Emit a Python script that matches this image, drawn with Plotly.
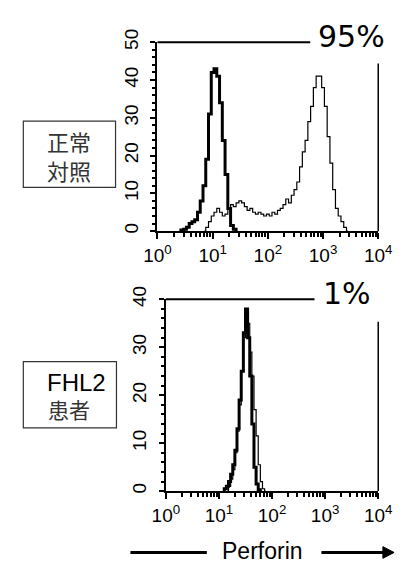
import plotly.graph_objects as go

# ---------------- data (log10 of Perforin fluorescence, cell counts) ----------------
# Normal control: isotype control (thick) and perforin (thin)
ctrl_iso_log = [0.40, 0.45, 0.50, 0.55, 0.60, 0.65, 0.70, 0.75, 0.80, 0.85, 0.90, 0.95,
                1.00, 1.05, 1.10, 1.15, 1.20, 1.25, 1.30, 1.35, 1.40, 1.45]
ctrl_iso_cnt = [0, 0.3, 0.5, 1, 2, 2.5, 3, 5, 8, 12, 19, 31,
                42, 43, 41, 34, 24, 15, 6, 1.5, 0.5, 0]

ctrl_prf_log = [0.85, 0.90, 0.95, 1.00, 1.05, 1.10, 1.15, 1.20, 1.25, 1.30, 1.35, 1.40,
                1.45, 1.50, 1.55, 1.60, 1.65, 1.70, 1.75, 1.80, 1.85, 1.90, 1.95, 2.00,
                2.05, 2.10, 2.15, 2.20, 2.25, 2.30, 2.35, 2.40, 2.45, 2.50, 2.55, 2.60,
                2.65, 2.70, 2.75, 2.80, 2.85, 2.90, 2.95, 3.00, 3.05, 3.10, 3.15, 3.20,
                3.25, 3.30, 3.35, 3.40, 3.45]
ctrl_prf_cnt = [0, 1, 2.5, 4, 5, 6, 5, 4, 4.5, 6, 7, 6.5,
                7.5, 8, 7.5, 6.5, 5.5, 6, 5, 4.5, 5, 4.5, 4, 4.5,
                4, 5, 4.5, 5.5, 6, 7, 8.5, 7.5, 9.5, 11, 13, 17,
                21, 24, 29, 33, 38, 41, 41, 38, 33, 25, 18, 11,
                6, 4, 2.5, 1, 0]

# FHL2 patient
pt_iso_log = [1.08, 1.12, 1.16, 1.20, 1.24, 1.28, 1.32, 1.36, 1.40, 1.44, 1.48, 1.52,
              1.56, 1.60, 1.64, 1.68, 1.72, 1.76, 1.80]
pt_iso_cnt = [0, 0.5, 1, 2, 3.5, 5.5, 8.5, 13, 19, 25, 33, 38,
              32, 24, 14, 5, 1.5, 0.3, 0]

pt_prf_log = [1.16, 1.20, 1.24, 1.28, 1.32, 1.36, 1.40, 1.44, 1.48, 1.52, 1.56, 1.60,
              1.64, 1.68, 1.72, 1.76, 1.80, 1.84, 1.88]
pt_prf_cnt = [0, 1, 2.5, 4.5, 8, 12.5, 18, 25, 32, 36, 35, 29,
              24, 17, 11.5, 5.5, 2, 0.5, 0]

x_tickvals = [1, 10, 100, 1000, 10000]
x_ticktext = ["10<sup>0</sup>", "10<sup>1</sup>", "10<sup>2</sup>", "10<sup>3</sup>", "10<sup>4</sup>"]
top_label = "95%"
bottom_label = "1%"
row1_text = "正常<br>対照"
row2_lines = ["FHL2", "患者"]
axis_title = "Perforin"

W, H = 409, 572
def px(x):
    return x / W
def py(y):
    return 1 - y / H

fig = go.Figure()
fig.add_trace(go.Scatter(x=[10 ** v for v in ctrl_prf_log], y=ctrl_prf_cnt, mode="lines",
                         line=dict(color="black", width=1.2, shape="hvh"), xaxis="x", yaxis="y"))
fig.add_trace(go.Scatter(x=[10 ** v for v in ctrl_iso_log], y=ctrl_iso_cnt, mode="lines",
                         line=dict(color="black", width=3, shape="hvh"), xaxis="x", yaxis="y"))
fig.add_trace(go.Scatter(x=[10 ** v for v in pt_prf_log], y=pt_prf_cnt, mode="lines",
                         line=dict(color="black", width=1.2, shape="hvh"), xaxis="x2", yaxis="y2"))
fig.add_trace(go.Scatter(x=[10 ** v for v in pt_iso_log], y=pt_iso_cnt, mode="lines",
                         line=dict(color="black", width=3, shape="hvh"), xaxis="x2", yaxis="y2"))

tickfont = dict(family="Liberation Sans Narrow, Liberation Sans, Arial", size=19, color="black")
xcommon = dict(type="log", range=[0, 4], tickvals=x_tickvals, ticktext=x_ticktext,
               showline=True, linecolor="black", linewidth=2, ticks="outside", ticklen=6,
               tickwidth=1.5, tickcolor="black", showgrid=False, zeroline=False,
               tickfont=tickfont, ticklabelstandoff=0,
               minor=dict(ticks="outside", ticklen=4, tickcolor="black", showgrid=False,
                          tickvals=[a * b for b in [1, 10, 100, 1000] for a in range(2, 10)]))
ycommon = dict(showline=True, linecolor="black", linewidth=2, ticks="outside", ticklen=5,
               tickwidth=1.5, tickcolor="black", showgrid=False, zeroline=False,
               tickangle=-90, tickfont=tickfont, dtick=10, ticklabelstandoff=5,
               minor=dict(ticks="outside", ticklen=3, dtick=2, tickcolor="black", showgrid=False))

fig.update_layout(
    width=W, height=H, margin=dict(l=0, r=0, t=0, b=0),
    paper_bgcolor="white", plot_bgcolor="white", showlegend=False,
    xaxis=dict(domain=[px(154), px(391)], anchor="y", **xcommon),
    yaxis=dict(domain=[py(224), py(30)], range=[0, 50], anchor="x", **ycommon),
    xaxis2=dict(domain=[px(163), px(391)], anchor="y2", **xcommon),
    yaxis2=dict(domain=[py(491), py(294)], range=[0, 40], anchor="x2", **ycommon),
)

shapes = []
# partial top borders and right borders
shapes.append(dict(type="line", xref="x domain", yref="y domain", x0=0, x1=0.692, y0=1, y1=1,
                   line=dict(color="black", width=2)))
shapes.append(dict(type="line", xref="x domain", yref="y domain", x0=1, x1=1, y0=0, y1=0.887,
                   line=dict(color="black", width=1.5)))
shapes.append(dict(type="line", xref="x2 domain", yref="y2 domain", x0=0, x1=0.70, y0=1, y1=1,
                   line=dict(color="black", width=2)))
shapes.append(dict(type="line", xref="x2 domain", yref="y2 domain", x0=1, x1=1, y0=0, y1=0.883,
                   line=dict(color="black", width=1.5)))
# label boxes
shapes.append(dict(type="rect", xref="paper", yref="paper", x0=px(10), x1=px(109), y0=py(179), y1=py(111),
                   line=dict(color="#333333", width=1.2)))
shapes.append(dict(type="rect", xref="paper", yref="paper", x0=px(10), x1=px(110), y0=py(426), y1=py(358),
                   line=dict(color="#333333", width=1.2)))
# Perforin arrow
shapes.append(dict(type="line", xref="paper", yref="paper", x0=px(125), x1=px(207), y0=py(554), y1=py(554),
                   line=dict(color="black", width=3)))
shapes.append(dict(type="line", xref="paper", yref="paper", x0=px(330), x1=px(398), y0=py(554), y1=py(554),
                   line=dict(color="black", width=3)))
shapes.append(dict(type="path", xref="paper", yref="paper",
                   path=f"M {px(396)},{py(548)} L {px(408)},{py(554)} L {px(396)},{py(560)} Z",
                   fillcolor="black", line=dict(color="black", width=1)))
fig.update_layout(shapes=shapes)

ann = []
ann.append(dict(text=top_label, xref="paper", yref="paper", x=px(362), y=py(24), showarrow=False,
                font=dict(family="DejaVu Sans", size=30, color="black"), xanchor="center", yanchor="middle"))
ann.append(dict(text=bottom_label, xref="paper", yref="paper", x=px(358), y=py(288), showarrow=False,
                font=dict(family="DejaVu Sans", size=30, color="black"), xanchor="center", yanchor="middle"))
cjk = "Noto Sans CJK JP"
ann.append(dict(text=row1_text, xref="paper", yref="paper", x=px(59), y=py(146), showarrow=False,
                font=dict(family=cjk, size=22, color="#333333"), xanchor="center", yanchor="middle"))
ann.append(dict(text=row2_lines[0], xref="paper", yref="paper", x=px(33), y=py(379), showarrow=False,
                font=dict(family="Liberation Sans, Arial", size=24, color="black"),
                xanchor="left", yanchor="middle"))
ann.append(dict(text=row2_lines[1], xref="paper", yref="paper", x=px(34), y=py(407), showarrow=False,
                font=dict(family=cjk, size=21, color="#333333"), xanchor="left", yanchor="middle"))
ann.append(dict(text=axis_title, xref="paper", yref="paper", x=px(267), y=py(553), showarrow=False,
                font=dict(family="Liberation Sans, Arial", size=23, color="black"),
                xanchor="center", yanchor="middle"))
fig.update_layout(annotations=ann)

fig.write_html("out.html", config={"displayModeBar": False},
               post_script="document.body.style.margin='0';")
